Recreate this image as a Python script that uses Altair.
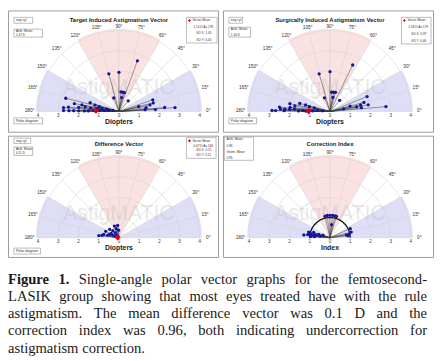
import math
import numpy as np
import pandas as pd
import altair as alt

# ---------------- values ----------------
# magnitude (D or index) and axis (degrees) of every eye
tia_mag = [2.67, 1.93, 1.94, 0.98, 0.97, 0.97, 0.72, 0.70, 0.70,
           1.77, 1.75, 1.57, 1.01, 2.78, 2.27, 1.81, 1.30, 1.36,
           2.71, 2.24, 1.49, 1.86, 1.23, 1.01,
           2.75, 2.51, 2.00, 1.69, 1.41,
           2.74, 2.47, 2.24, 1.99, 1.71, 1.51,
           1.27, 0.95, 0.74, 0.50, 0.30, 1.11, 0.86, 0.61]
tia_axis = [70, 105, 90, 84, 79, 74, 111, 79, 49,
            19, 14, 12, 14, 4, 5, 3, 4, 8,
            166, 170, 163, 170, 165, 166,
            176, 175, 174, 172, 173,
            179, 179, 179, 179, 179, 179,
            178, 177, 176, 174, 170, 172, 170, 169]

sia_mag = [2.56, 1.94, 1.97, 0.96, 0.97, 0.99, 0.73, 0.71, 0.73,
           1.98, 1.74, 1.55, 1.92, 1.03, 2.78, 1.57, 1.34, 0.69,
           2.51, 2.02, 1.76, 1.55, 1.25, 1.05, 0.79,
           2.87, 2.69, 2.27, 2.24, 2.00, 1.76, 1.34, 1.03, 0.63, 0.37, 1.98,
           1.55, 1.20, 0.85, 2.45]
sia_axis = [64, 106, 90, 85, 79, 74, 112, 78, 49,
            22, 15, 12, 10, 15, 5, 7, 10, 11,
            175, 169, 171, 165, 165, 167, 167,
            179, 179, 179, 177, 177, 176, 178, 177, 175, 175, 174,
            179, 179, 178, 177]

dv_mag = [1.00, 0.77, 0.56, 0.73, 0.62, 0.46, 0.62, 0.61, 0.33, 0.31,
          0.17, 0.44, 0.47, 0.37, 0.85, 0.25, 0.50]
dv_axis = [174, 168, 167, 154, 138, 131, 111, 96, 157, 125,
           130, 151, 107, 93, 172, 160, 162]

ci_mag = [1.11, 1.11, 1.11, 1.11, 1.10, 1.09, 0.65,
          1.10, 1.09, 0.95, 0.89, 0.82,
          1.09, 0.99, 0.85, 0.69, 0.90, 1.30, 1.11, 0.58, 0.77, 0.97,
          0.49, 0.37, 1.02, 0.80]
ci_axis = [97, 90, 83, 77, 73, 103, 83,
           24, 15, 10, 6, 10,
           165, 168, 162, 169, 174, 174, 172, 164, 176, 177,
           171, 160, 171, 168]

tia_mean = [1.14, 178]
sia_mean = [1.06, 179]
dv_mean = [0.07, 164]
ci_reference = [1.0]

grid_radii = [1, 2, 3, 4]
angle_ticks = [0, 15, 30, 45, 60, 75, 90, 105, 120, 135, 150, 165, 180]
dist_ticks = [-4, -3, -2, -1, 0, 1, 2, 3, 4]
blue_sectors = [[0, 30], [150, 180]]
pink_sectors = [[60, 120]]

caption_lines = [
    "Figure 1. Single-angle polar vector graphs for the femtosecond-",
    "LASIK group showing that most eyes treated have with the rule",
    "astigmatism. The mean difference vector was 0.1 D and the",
    "correction index was 0.96, both indicating undercorrection for",
    "astigmatism correction.",
]
caption_bold_words = 2  # "Figure 1." is bold

# ---------------- layout / style ----------------
W, H = 214, 124
UNIT = 20.5
SECTOR_R = 4.1
FONT = "Liberation Sans"
SERIF = "Liberation Serif"
BLUE = "#dedef6"
PINK = "#fbe2e2"
DOT = "#15159c"
one = pd.DataFrame({"k": [0]})

# Times-compatible advance widths (1/1000 em) used to justify the caption
_TW = dict(zip("abcdefghijklmnopqrstuvwxyz",
               [444, 500, 444, 500, 444, 333, 500, 500, 278, 278, 500, 278, 778,
                500, 500, 500, 500, 333, 389, 278, 500, 500, 722, 500, 500, 444]))
_TW.update(dict(zip("ABCDEFGHIJKLMNOPQRSTUVWXYZ",
                    [722, 667, 667, 722, 611, 556, 722, 722, 333, 389, 722, 611, 889,
                     722, 722, 556, 722, 667, 556, 611, 722, 722, 944, 722, 722, 611])))
_TW.update({c: 500 for c in "0123456789"})
_TW.update({".": 250, ",": 250, "-": 333, ":": 278, " ": 250})
_TWB = dict(_TW)
_TWB.update({"F": 611, "g": 500, "u": 556, "r": 444, "i": 278, "e": 444})


def word_w(w, size, bold=False):
    tab = _TWB if bold else _TW
    return sum(tab.get(c, 500) for c in w) * size / 1000.0


def polar_df(mags, axes):
    m = np.asarray(mags, float)
    a = np.radians(np.asarray(axes, float))
    return pd.DataFrame({"x": m * np.cos(a), "y": m * np.sin(a), "x0": 0.0, "y0": 0.0})


def wedge_df(sectors, R):
    frames = []
    ys = np.linspace(0, R, 2001)
    for i, (a0, a1) in enumerate(sectors):
        cands = [R * math.cos(math.radians(t)) for t in np.linspace(a0, a1, 61)] + [0.0]
        lo, hi = min(cands), max(cands)
        xs = np.unique(np.concatenate([np.linspace(lo, hi, 300),
                                       [R * math.cos(math.radians(a0)), R * math.cos(math.radians(a1))]]))
        rows = []
        for x in xs:
            th = np.degrees(np.arctan2(ys, x))
            ok = (x * x + ys * ys <= R * R + 1e-9) & (th >= a0 - 1e-6) & (th <= a1 + 1e-6)
            if ok.any():
                rows.append((x, ys[ok].min(), ys[ok].max()))
        df = pd.DataFrame(rows, columns=["x", "ylo", "yhi"])
        df["sector"] = i
        frames.append(df)
    return pd.concat(frames, ignore_index=True)


def arcs_df(radii):
    t = np.radians(np.arange(0, 181, 1))
    frames = []
    for r in radii:
        frames.append(pd.DataFrame({"x": r * np.cos(t), "y": r * np.sin(t), "r": r, "o": np.arange(len(t))}))
    return pd.concat(frames, ignore_index=True)


def txt(x, y, s, size, bold=False, align="left", color="#222222", font=FONT, baseline="middle"):
    return alt.Chart(one).mark_text(
        text=s, fontSize=size, fontWeight="bold" if bold else "normal",
        align=align, baseline=baseline, color=color, font=font
    ).encode(x=alt.value(x), y=alt.value(y))


def box(x1, y1, x2, y2, stroke="#8f8f8f", sw=0.6, fill="white", fo=1.0):
    return alt.Chart(one).mark_rect(fill=fill, fillOpacity=fo, stroke=stroke, strokeWidth=sw).encode(
        x=alt.value(x1), x2=alt.value(x2), y=alt.value(y1), y2=alt.value(y2))


def text_box(b, lines, size=3.3, marker=False, indent=None, pad=2.4):
    x1, y1, x2, y2 = b
    layers = [box(x1, y1, x2, y2)]
    n = len(lines)
    if n == 1:
        ys_ = [(y1 + y2) / 2]
    else:
        step = (y2 - y1 - 2 * pad) / (n - 1)
        ys_ = [y1 + pad + i * step for i in range(n)]
    for i, s in enumerate(lines):
        xx = x1 + 2 if indent is None else x1 + indent[i]
        layers.append(txt(xx, ys_[i], s, size, color="#333333"))
    if marker:
        layers.append(alt.Chart(one).mark_point(shape="diamond", filled=True, color="#e00000", size=9, opacity=1)
                      .encode(x=alt.value(x1 + 3), y=alt.value(ys_[0])))
    return layers


def panel(title, xlabel, mags, axes, mean, ox, oy, title_y, xlabel_y,
          neg=None, arith=None, legend=None, polar=None, ci_arc=False):
    xs = alt.Scale(domain=[-ox / UNIT, (W - ox) / UNIT], nice=False, zero=False)
    ys = alt.Scale(domain=[-(H - oy) / UNIT, oy / UNIT], nice=False, zero=False)

    def X(f):
        return alt.X(f, type="quantitative", scale=xs, axis=None)

    def Y(f):
        return alt.Y(f, type="quantitative", scale=ys, axis=None)

    layers = []
    layers.append(alt.Chart(wedge_df(blue_sectors, SECTOR_R)).mark_area(color=BLUE, opacity=1)
                  .encode(x=X("x"), y=Y("ylo"), y2="yhi", detail="sector:N"))
    layers.append(alt.Chart(wedge_df(pink_sectors, SECTOR_R)).mark_area(color=PINK, opacity=1)
                  .encode(x=X("x"), y=Y("ylo"), y2="yhi", detail="sector:N"))
    layers.append(alt.Chart(arcs_df(grid_radii)).mark_line(color="#d4d4d4", strokeWidth=0.6)
                  .encode(x=X("x"), y=Y("y"), detail="r:N", order="o:Q"))
    rad = pd.DataFrame({"a": angle_ticks})
    rad["x2"] = 4 * np.cos(np.radians(rad["a"]))
    rad["y2"] = 4 * np.sin(np.radians(rad["a"]))
    rad["x0"] = 0.0
    rad["y0"] = 0.0
    layers.append(alt.Chart(rad).mark_rule(color="#d4d4d4", strokeWidth=0.6)
                  .encode(x=X("x0"), y=Y("y0"), x2="x2", y2="y2"))
    # watermark
    layers.append(alt.Chart(pd.DataFrame({"x": [0.0], "y": [1.15]})).mark_text(
        text="AstigMATIC", fontSize=21.5, font=FONT, color="#b4b4b4", opacity=0.28,
        align="center", baseline="middle").encode(x=X("x"), y=Y("y")))
    # angle labels
    lab = pd.DataFrame({"a": angle_ticks})
    rr = 4.2 + 0.22 * np.abs(np.cos(np.radians(lab["a"])))
    lab["x"] = rr * np.cos(np.radians(lab["a"]))
    lab["y"] = rr * np.sin(np.radians(lab["a"]))
    lab["t"] = [f"{a}°" for a in angle_ticks]
    layers.append(alt.Chart(lab).mark_text(fontSize=4.8, font=FONT, color="#333333",
                                           align="center", baseline="middle")
                  .encode(x=X("x"), y=Y("y"), text="t:N"))
    # distance tick labels
    tk = pd.DataFrame({"x": dist_ticks})
    tk["y"] = -0.22
    tk["t"] = [str(abs(v)) for v in dist_ticks]
    layers.append(alt.Chart(tk).mark_text(fontSize=4.5, font=FONT, color="#333333",
                                          align="center", baseline="middle")
                  .encode(x=X("x"), y=Y("y"), text="t:N"))
    # unit circle for the correction index
    if ci_arc:
        layers.append(alt.Chart(arcs_df(ci_reference)).mark_line(color="#111111", strokeWidth=1.3)
                      .encode(x=X("x"), y=Y("y"), detail="r:N", order="o:Q"))
    pts = polar_df(mags, axes)
    layers.append(alt.Chart(pts).mark_rule(color="#3c3c3c", strokeWidth=0.5)
                  .encode(x=X("x0"), y=Y("y0"), x2="x", y2="y"))
    layers.append(alt.Chart(pts).mark_circle(color=DOT, size=11, opacity=1)
                  .encode(x=X("x"), y=Y("y")))
    if mean is not None:
        layers.append(alt.Chart(polar_df([mean[0]], [mean[1]])).mark_point(
            shape="diamond", filled=True, color="#e00000", size=38, opacity=1)
            .encode(x=X("x"), y=Y("y")))
    # texts and boxes
    layers.append(txt(ox, title_y, title, 6.0, bold=True, align="center", color="#1a1a1a"))
    layers.append(txt(ox, xlabel_y, xlabel, 7.0, bold=True, align="center", color="#1a1a1a"))
    if neg is not None:
        layers += text_box(neg, ["neg cyl"], size=3.4)
    if arith is not None:
        layers += text_box(arith[0], arith[1], size=3.2, pad=2.3)
    if legend is not None:
        layers += text_box(legend[0], legend[1], size=3.2, marker=True, indent=[6, 7, 10, 10], pad=3.2)
    if polar is not None:
        layers += text_box(polar, ["Polar diagram"], size=3.6)
    layers.append(box(0.5, 0.5, W - 0.5, H - 0.5, stroke="#9a9a9a", sw=1, fo=0))
    return alt.layer(*layers).properties(width=W, height=H)


p1 = panel("Target Induced Astigmatism Vector", "Diopters", tia_mag, tia_axis, tia_mean,
           112.5, 102.5, 10, 113.5,
           neg=(6, 7, 25, 13),
           arith=((6, 19, 35, 27), ["Arith. Mean:", "1.47 D"]),
           legend=((181, 7, 212, 33), ["Vector Mean:", "1.14 D Ax 178", "SD X: 1.05", "SD Y: 0.44"]),
           polar=(6, 109, 35, 115))
p2 = panel("Surgically Induced Astigmatism Vector", "Diopters", sia_mag, sia_axis, sia_mean,
           108.5, 102.5, 10, 113.5,
           neg=(6, 7, 20, 13),
           arith=((6, 17, 28, 27), ["Arith. Mean:", "1.40 D"]),
           legend=((181, 7, 211, 34), ["Vector Mean:", "1.06 D Ax 179", "SD X: 0.97", "SD Y: 0.46"]),
           polar=(6, 109, 34, 115))
p3 = panel("Difference Vector", "Diopters", dv_mag, dv_axis, dv_mean,
           112.5, 103.5, 8.5, 113.5,
           neg=(6, 2.5, 23, 8),
           arith=((6, 11.5, 25, 20), ["Arith. Mean:", "0.11 D"]),
           legend=((181, 2, 211, 23), ["Vector Mean:", "0.07 D Ax 164", "SD X: 0.21", "SD Y: 0.11"]),
           polar=(6, 114, 33, 120))
p4 = panel("Correction Index", "Index", ci_mag, ci_axis, None,
           108.5, 103.5, 8.5, 113.5,
           arith=((1.5, 1.5, 31, 25), ["Arith. Mean:", "0.96", "Geom. Mean:", "0.95"]),
           ci_arc=True)

# ---------------- caption (justified like the printed figure) ----------------
CW = 2 * W + 4
CH = 95
CAP_SIZE = 14.8
TEXT_W = 425
baselines = [23, 40.5, 58, 75.5, 93]
rows = []
for li, line in enumerate(caption_lines):
    words = line.split(" ")
    bolds = [li == 0 and wi < caption_bold_words for wi in range(len(words))]
    widths = [word_w(w, CAP_SIZE, b) for w, b in zip(words, bolds)]
    last = li == len(caption_lines) - 1
    gap = CAP_SIZE * 0.25 if last else (TEXT_W - sum(widths)) / (len(words) - 1)
    x = 0.0
    for w, b, ww in zip(words, bolds, widths):
        rows.append({"w": w, "x": x, "y": baselines[li], "bold": "bold" if b else "normal"})
        x += ww + gap
cap = pd.DataFrame(rows)
cx = alt.Scale(domain=[0, CW], nice=False, zero=False)
cy = alt.Scale(domain=[CH, 0], nice=False, zero=False)
cap_base = alt.Chart(cap).encode(
    x=alt.X("x:Q", scale=cx, axis=None), y=alt.Y("y:Q", scale=cy, axis=None), text="w:N")
caption = alt.layer(
    cap_base.transform_filter(alt.datum.bold == "bold").mark_text(
        font=SERIF, fontSize=CAP_SIZE, fontWeight="bold", align="left", baseline="alphabetic", color="#1a1a1a"),
    cap_base.transform_filter(alt.datum.bold == "normal").mark_text(
        font=SERIF, fontSize=CAP_SIZE, fontWeight="normal", align="left", baseline="alphabetic", color="#1a1a1a"),
).properties(width=CW, height=CH)

chart = alt.vconcat(
    alt.hconcat(p1, p2, spacing=4),
    alt.hconcat(p3, p4, spacing=4),
    caption,
    spacing=3,
).properties(padding=0).configure_view(stroke=None)

chart.save("out.html", embed_options={"renderer": "svg", "actions": False})
